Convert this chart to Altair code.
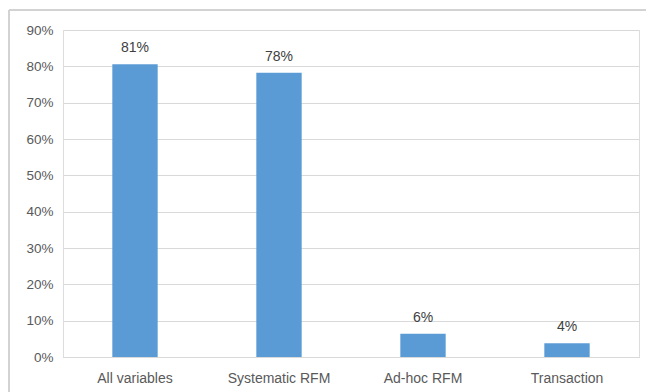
import altair as alt
import pandas as pd

categories = ["All variables", "Systematic RFM", "Ad-hoc RFM", "Transaction"]
shares = [0.806, 0.782, 0.064, 0.038]
y_ticks = [0, 0.1, 0.2, 0.3, 0.4, 0.5, 0.6, 0.7, 0.8, 0.9]

df = pd.DataFrame({"category": categories, "share": shares})

FONT = "Liberation Sans"
TEXT = "#595959"
FRAME = "#d0d0d0"

x_enc = alt.X(
    "category:N",
    sort=categories,
    title=None,
    scale=alt.Scale(paddingInner=0.685, paddingOuter=0.3425),
    axis=alt.Axis(
        labelAngle=0, labelFontSize=14, labelColor=TEXT, labelFont=FONT,
        labelPadding=14, ticks=False, domain=True, domainColor="#d9d9d9",
        grid=False,
    ),
)
y_enc = alt.Y(
    "share:Q",
    title=None,
    scale=alt.Scale(domain=[0, 0.9], nice=False, zero=True),
    axis=alt.Axis(
        values=y_ticks, format=".0%", labelFontSize=13.5, labelColor=TEXT,
        labelFont=FONT, labelPadding=10, ticks=False, domain=False,
        grid=True, gridColor="#d9d9d9", labelOverlap=False, tickCount=10,
    ),
)

bars = alt.Chart(df).mark_bar(color="#5b9bd5").encode(x=x_enc, y=y_enc)

labels = alt.Chart(df).mark_text(
    dy=-16, fontSize=14, font=FONT, color="#404040"
).encode(
    x=x_enc,
    y=y_enc,
    text=alt.Text("share:Q", format=".0%"),
)

# top and left edges of the chart frame
frame_top = alt.Chart(df).mark_rule(stroke=FRAME, strokeWidth=1, clip=False).encode(
    x=alt.value(-54), x2=alt.value(620), y=alt.value(-20)
)
frame_left = alt.Chart(df).mark_rule(stroke=FRAME, strokeWidth=1, clip=False).encode(
    x=alt.value(-54), y=alt.value(-20), y2=alt.value(400)
)

chart = (
    alt.layer(frame_top, frame_left, bars, labels)
    .properties(
        width=576,
        height=327,
        autosize=alt.AutoSizeParams(type="none"),
        padding={"left": 63, "top": 30, "right": 7, "bottom": 35},
    )
    .configure_view(stroke="transparent", strokeWidth=0)
    .configure(background="white")
)

chart.save("out.html", embed_options={"renderer": "svg", "actions": False})
